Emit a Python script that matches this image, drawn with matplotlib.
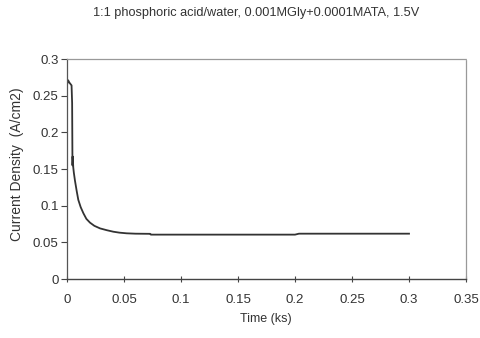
import matplotlib
matplotlib.use("Agg")
import matplotlib.pyplot as plt

plt.rcParams['font.family'] = ['Liberation Sans', 'DejaVu Sans']

time_ks = [0.0, 0.001, 0.002, 0.003, 0.004, 0.0045, 0.0048, 0.005, 0.0055, 0.006, 0.007,
           0.0085, 0.0099, 0.012, 0.0144, 0.017, 0.0202, 0.024, 0.029, 0.035, 0.0406,
           0.046, 0.0523, 0.06, 0.073, 0.0735, 0.1, 0.15, 0.2, 0.2035, 0.25, 0.3]
current = [0.265, 0.271, 0.268, 0.266, 0.264, 0.24, 0.155, 0.167, 0.152, 0.145, 0.134,
           0.12, 0.108, 0.098, 0.0896, 0.082, 0.0768, 0.0725, 0.069, 0.0665, 0.0645,
           0.0632, 0.0623, 0.0618, 0.0616, 0.0605, 0.0605, 0.0605, 0.0605, 0.0618, 0.0618, 0.0618]

title = "1:1 phosphoric acid/water, 0.001MGly+0.0001MATA, 1.5V"
xlabel = "Time (ks)"
ylabel = "Current Density  (A/cm2)"
xticks = [0, 0.05, 0.1, 0.15, 0.2, 0.25, 0.3, 0.35]
xticklabels = ["0", "0.05", "0.1", "0.15", "0.2", "0.25", "0.3", "0.35"]
yticks = [0, 0.05, 0.1, 0.15, 0.2, 0.25, 0.3]
yticklabels = ["0", "0.05", "0.1", "0.15", "0.2", "0.25", "0.3"]

fig = plt.figure(figsize=(4.81, 3.38), dpi=100)
ax = fig.add_axes([67/481, 59/338, (466-67)/481, (279-59)/338])
ax.plot(time_ks, current, color='#333333', lw=1.3)

ax.set_xlim(0, 0.35)
ax.set_ylim(0, 0.3)
ax.set_xticks(xticks)
ax.set_xticklabels(xticklabels)
ax.set_yticks(yticks)
ax.set_yticklabels(yticklabels)
ax.tick_params(axis='x', direction='inout', length=5, width=0.8, colors='#444444',
               labelsize=9.5, labelcolor='#333333', pad=8)
ax.tick_params(axis='y', direction='out', length=4, width=0.8, colors='#444444',
               labelsize=9.5, labelcolor='#333333', pad=2)

for side in ['top', 'right']:
    ax.spines[side].set_linestyle((0, (1, 1)))
    ax.spines[side].set_color('#999999')
    ax.spines[side].set_linewidth(0.9)
ax.spines['left'].set_color('#555555')
ax.spines['left'].set_linewidth(0.9)
ax.spines['bottom'].set_color('#444444')
ax.spines['bottom'].set_linewidth(1.0)

fig.text(256/481, 1 - 13/338, title, ha='center', va='center', fontsize=9.2, color='#333333')
fig.text(266/481, 1 - 319/338, xlabel, ha='center', va='center', fontsize=9, color='#333333')
fig.text(17/481, 1 - 164/338, ylabel, ha='center', va='center', rotation=90, fontsize=10, color='#333333')

fig.savefig('out.png', dpi=100)
